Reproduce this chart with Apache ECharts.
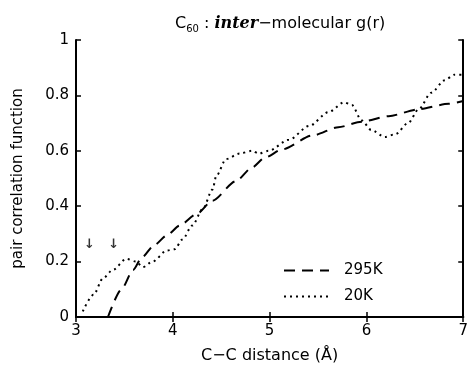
<!DOCTYPE html>
<html>
<head>
<meta charset="utf-8">
<script src="https://cdn.jsdelivr.net/npm/echarts@6/dist/echarts.min.js"></script>
<style>
  html, body { margin: 0; padding: 0; background: #fff; }
  #main { width: 471px; height: 369px; }
</style>
</head>
<body>
<div id="main"></div>
<script>
// 295K, dashed
var r295 = [3.33, 3.47, 3.59, 3.68, 3.81, 3.94, 4.07, 4.24, 4.41, 4.65, 4.82, 4.95, 5.13, 5.44, 5.71, 5.95, 6.23, 6.54, 6.85, 7.0];
var g295 = [0.0, 0.10, 0.17, 0.215, 0.26, 0.295, 0.33, 0.37, 0.42, 0.49, 0.54, 0.575, 0.605, 0.655, 0.685, 0.705, 0.725, 0.75, 0.77, 0.78];
// 20K, dotted
var r20 = [3.07, 3.18, 3.28, 3.38, 3.52, 3.62, 3.69, 3.79, 3.94, 4.02, 4.1, 4.2, 4.31, 4.41, 4.45, 4.55, 4.69, 4.82, 4.89, 4.99, 5.2, 5.41, 5.61, 5.77, 5.85, 5.95, 6.05, 6.19, 6.3, 6.43, 6.54, 6.67, 6.81, 6.91, 7.0];
var g20 = [0.02, 0.08, 0.14, 0.17, 0.21, 0.20, 0.18, 0.20, 0.24, 0.245, 0.28, 0.33, 0.39, 0.46, 0.51, 0.57, 0.59, 0.60, 0.59, 0.60, 0.64, 0.69, 0.74, 0.775, 0.765, 0.71, 0.675, 0.65, 0.66, 0.70, 0.75, 0.81, 0.855, 0.875, 0.875];
// the two arrows
var arrowX = [3.14, 3.39];
var arrowY = [0.26, 0.26];

var xTicks = [3, 4, 5, 6, 7];
var yTicks = [0, 0.2, 0.4, 0.6, 0.8, 1];

function pairs(xs, ys) {
  return xs.map(function (x, i) { return [x, ys[i]]; });
}

var font = "DejaVu Sans";
var chart = echarts.init(document.getElementById("main"));

var axisLine = { show: true, lineStyle: { color: "#000", width: 2 } };
var tick = { show: true, inside: true, length: 5, lineStyle: { color: "#000", width: 1.5 } };

chart.setOption({
  animation: false,
  textStyle: { fontFamily: font },
  title: {
    text: "{c|C}{sub|60}{t| : }{b|inter}{t|\u2212molecular g(r)}",
    left: 170,
    top: 9,
    textStyle: {
      fontWeight: "normal",
      rich: {
        c: { fontSize: 16, color: "#000", fontFamily: font },
        sub: { fontSize: 10, color: "#000", verticalAlign: "bottom", padding: [10, 0, 0, 0], fontFamily: font },
        t: { fontSize: 16, color: "#000", fontFamily: font },
        b: { fontSize: 16, color: "#000", fontWeight: "bold", fontStyle: "italic", fontFamily: "DejaVu Serif" }
      }
    }
  },
  legend: {
    orient: "vertical",
    left: 278,
    top: 258,
    itemWidth: 45,
    itemHeight: 14,
    itemGap: 11,
    itemStyle: { color: "rgba(0,0,0,0)", borderWidth: 0 },
    textStyle: { fontSize: 15, color: "#000", fontFamily: font, padding: [0, 0, 0, 10] },
    data: ["295K", "20K"]
  },
  grid: { left: 76, right: 6, top: 40, bottom: 51, show: false },
  xAxis: [
    {
      type: "value", min: 3, max: 7, interval: 1, position: "bottom",
      axisLine: axisLine, axisTick: tick, splitLine: { show: false },
      axisLabel: { fontSize: 15, color: "#000", margin: 7,
        formatter: function (v) { return xTicks.indexOf(v) >= 0 ? String(v) : ""; } },
      name: "C\u2212C distance (\u00c5)", nameLocation: "middle", nameGap: 31,
      nameTextStyle: { fontSize: 16, color: "#000" }
    },
    {
      type: "value", min: 3, max: 7, interval: 1, position: "top",
      axisLine: axisLine, axisTick: tick, splitLine: { show: false },
      axisLabel: { show: false }
    }
  ],
  yAxis: [
    {
      type: "value", min: 0, max: 1, interval: 0.2, position: "left",
      axisLine: axisLine, axisTick: tick, splitLine: { show: false },
      axisLabel: { fontSize: 15, color: "#000", margin: 7,
        formatter: function (v) {
          var k = yTicks.indexOf(Math.round(v * 10) / 10);
          if (k < 0) return "";
          var t = yTicks[k];
          return t === 0 ? "0" : t === 1 ? "1" : t.toFixed(1);
        } },
      name: "pair correlation function", nameLocation: "middle", nameGap: 50,
      nameTextStyle: { fontSize: 15, color: "#000" }
    },
    {
      type: "value", min: 0, max: 1, interval: 0.2, position: "right",
      axisLine: axisLine, axisTick: tick, splitLine: { show: false },
      axisLabel: { show: false }
    }
  ],
  series: [
    {
      name: "295K", type: "line", symbol: "none", smooth: 0.25, smoothMonotone: "x",
      data: pairs(r295, g295),
      lineStyle: { color: "#000", width: 2, type: [11, 7] },
      itemStyle: { color: "#000" }
    },
    {
      name: "20K", type: "line", symbol: "none", smooth: 0.3, smoothMonotone: "x",
      data: pairs(r20, g20),
      lineStyle: { color: "#000", width: 2, type: [2, 4] },
      itemStyle: { color: "#000" }
    },
    {
      name: "arrows", type: "scatter", symbolSize: 0,
      data: pairs(arrowX, arrowY),
      label: { show: true, position: "inside", formatter: "\u2193", fontSize: 13, color: "#000", fontWeight: "bold", fontFamily: "DejaVu Sans" },
      silent: true
    }
  ]
});
</script>
</body>
</html>
